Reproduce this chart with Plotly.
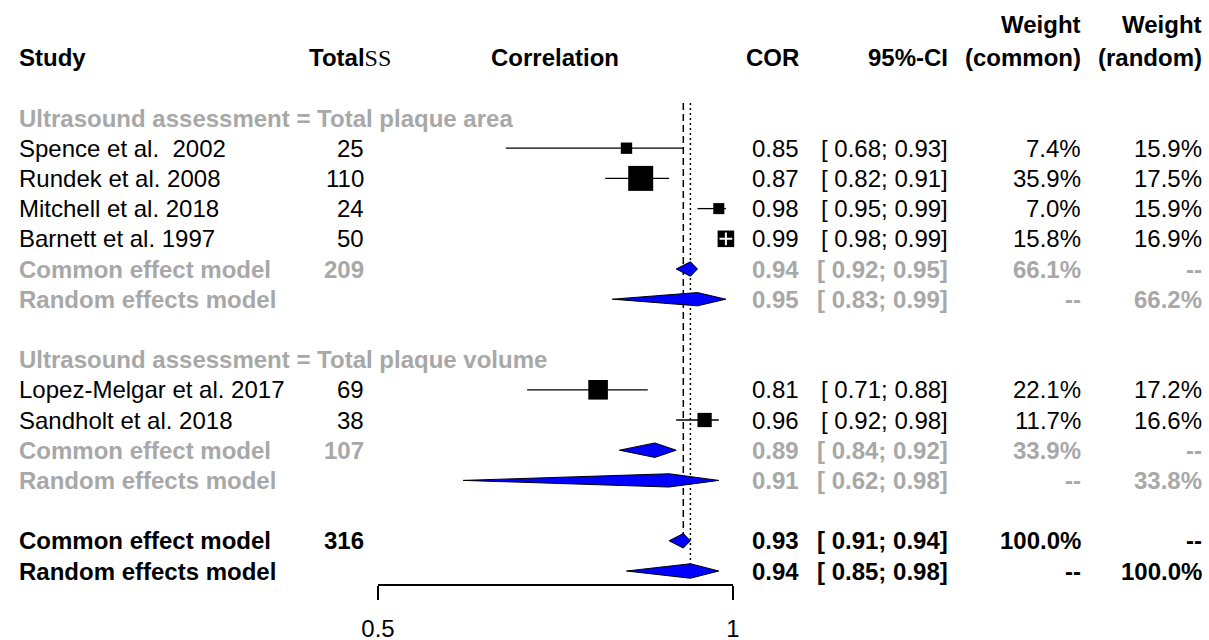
import plotly.graph_objects as go

# ---------------- data ----------------
studies = ["Spence et al.  2002", "Rundek et al. 2008", "Mitchell et al. 2018",
           "Barnett et al. 1997", "Lopez-Melgar et al. 2017", "Sandholt et al. 2018"]
study_group = [0, 0, 0, 0, 1, 1]
total = [25, 110, 24, 50, 69, 38]
cor = [0.85, 0.87, 0.98, 0.99, 0.81, 0.96]
ci_lo = [0.68, 0.82, 0.95, 0.98, 0.71, 0.92]
ci_hi = [0.93, 0.91, 0.99, 0.99, 0.88, 0.98]
w_common = [7.4, 35.9, 7.0, 15.8, 22.1, 11.7]
w_random = [15.9, 17.5, 15.9, 16.9, 17.2, 16.6]

group_labels = ["Ultrasound assessment = Total plaque area",
                "Ultrasound assessment = Total plaque volume"]
group_total = [209, 107]
grp_common_est = [0.94, 0.89]
grp_common_lo = [0.92, 0.84]
grp_common_hi = [0.95, 0.92]
grp_common_w = [66.1, 33.9]
grp_random_est = [0.95, 0.91]
grp_random_lo = [0.83, 0.62]
grp_random_hi = [0.99, 0.98]
grp_random_w = [66.2, 33.8]

overall_total = 316
overall_common = (0.93, 0.91, 0.94)
overall_random = (0.94, 0.85, 0.98)

tick_vals = [0.5, 1]
tick_text = ["0.5", "1"]

# ---------------- layout helpers ----------------
W, H = 1209, 640
FONT = "Liberation Sans, Arial, sans-serif"
FS = 24
GRAY = "#a8a8a8"
ROW0_PX, ROW_PX = 118, 30.2
Y_BOTTOM_PX = 584


def px2row(p):
    return (p - ROW0_PX) / ROW_PX


def xp(px):
    return px / W


fig = go.Figure()
ann = []


def text(x_px, row, s, anchor="left", color="black", bold=False, size=FS):
    if bold:
        s = "<b>" + s + "</b>"
    ann.append(dict(x=xp(x_px), y=row, xref="paper", yref="y", text=s,
                    showarrow=False, xanchor=anchor, yanchor="middle",
                    font=dict(family=FONT, size=size, color=color)))


def diamond(est, lo, hi, row, h=0.24):
    fig.add_trace(go.Scatter(x=[lo, est, hi, est, lo], y=[row, row - h, row, row + h, row],
                             mode="lines", fill="toself", fillcolor="#0000ff",
                             line=dict(color="black", width=1), hoverinfo="skip",
                             showlegend=False))


def stats_cols(row, est, lo, hi, wc, wr, color, bold):
    text(801, row, f"{est:.2f}", "right", color, bold)
    text(950, row, f"[{lo:5.2f}; {hi:.2f}]", "right", color, bold)
    text(1083, row, wc, "right", color, bold)
    text(1204, row, wr, "right", color, bold)


# headers
hr = px2row(57)
hr2 = px2row(24)
text(17, hr, "Study", bold=True)
text(307, hr, "<b>Total</b><span style='font-family:Liberation Serif, Times New Roman, serif'>SS</span>")
text(555, hr, "Correlation", "center", bold=True)
text(801, hr, "COR", "right", bold=True)
text(950, hr, "95%-CI", "right", bold=True)
text(1083, hr2, "Weight", "right", bold=True)
text(1083, hr, "(common)", "right", bold=True)
text(1204, hr2, "Weight", "right", bold=True)
text(1204, hr, "(random)", "right", bold=True)

# reference lines (drawn first)
last_row = 15
fig.add_trace(go.Scatter(x=[overall_common[0]] * 2, y=[-0.5, last_row - 1], mode="lines",
                         line=dict(color="black", width=1.5, dash="7px,4px"),
                         hoverinfo="skip", showlegend=False))
fig.add_trace(go.Scatter(x=[overall_random[0]] * 2, y=[-0.5, last_row], mode="lines",
                         line=dict(color="black", width=1.5, dash="2px,3px"),
                         hoverinfo="skip", showlegend=False))

row = 0
for g in range(len(group_labels)):
    text(17, row, group_labels[g], color=GRAY, bold=True)
    row += 1
    for i, s in enumerate(studies):
        if study_group[i] != g:
            continue
        text(17, row, s)
        text(366, row, str(total[i]), "right")
        stats_cols(row, cor[i], ci_lo[i], ci_hi[i], f"{w_common[i]:.1f}%", f"{w_random[i]:.1f}%",
                   "black", False)
        size = 4.17 * w_common[i] ** 0.5
        half = size / 2 / 710
        inside = (ci_hi[i] - ci_lo[i]) / 2 < half
        fig.add_trace(go.Scatter(x=[ci_lo[i], ci_hi[i]], y=[row, row], mode="lines",
                                 line=dict(color="black", width=1.3), hoverinfo="skip",
                                 showlegend=False))
        fig.add_trace(go.Scatter(x=[cor[i]], y=[row], mode="markers", cliponaxis=False,
                                 marker=dict(symbol="square", size=size, color="black",
                                             line=dict(width=0)),
                                 hoverinfo="skip", showlegend=False))
        if inside:
            fig.add_trace(go.Scatter(x=[cor[i]], y=[row], mode="markers", cliponaxis=False,
                                     marker=dict(symbol="cross-thin", size=size * 0.55,
                                                 line=dict(color="white", width=2)),
                                     hoverinfo="skip", showlegend=False))
        row += 1
    text(17, row, "Common effect model", color=GRAY, bold=True)
    text(366, row, str(group_total[g]), "right", GRAY, True)
    stats_cols(row, grp_common_est[g], grp_common_lo[g], grp_common_hi[g],
               f"{grp_common_w[g]:.1f}%", "--", GRAY, True)
    diamond(grp_common_est[g], grp_common_lo[g], grp_common_hi[g], row)
    row += 1
    text(17, row, "Random effects model", color=GRAY, bold=True)
    stats_cols(row, grp_random_est[g], grp_random_lo[g], grp_random_hi[g],
               "--", f"{grp_random_w[g]:.1f}%", GRAY, True)
    diamond(grp_random_est[g], grp_random_lo[g], grp_random_hi[g], row, h=0.22)
    row += 2

# overall
text(17, row, "Common effect model", bold=True)
text(366, row, str(overall_total), "right", "black", True)
stats_cols(row, *overall_common, "100.0%", "--", "black", True)
diamond(*overall_common, row)
row += 1
text(17, row, "Random effects model", bold=True)
stats_cols(row, *overall_random, "--", "100.0%", "black", True)
diamond(*overall_random, row)

fig.update_layout(
    width=W, height=H, margin=dict(l=0, r=0, t=0, b=0, pad=0, autoexpand=False),
    plot_bgcolor="white", paper_bgcolor="white",
    annotations=ann, showlegend=False,
    xaxis=dict(domain=[378 / W, 733 / W], range=[0.5, 1], showgrid=False, zeroline=False,
               showline=True, linecolor="black", linewidth=1.5, automargin=False,
               ticks="outside", ticklen=14, tickwidth=1.5, tickcolor="black",
               tickvals=tick_vals, ticktext=tick_text, ticklabelstandoff=8,
               tickfont=dict(family=FONT, size=FS, color="black"), fixedrange=True),
    yaxis=dict(domain=[(H - Y_BOTTOM_PX) / H, 1], range=[px2row(Y_BOTTOM_PX), px2row(0)],
               visible=False, fixedrange=True, automargin=False),
)

fig.write_html("out.html", config={"displayModeBar": False},
               post_script="document.body.style.margin='0';document.body.style.overflow='hidden';")
